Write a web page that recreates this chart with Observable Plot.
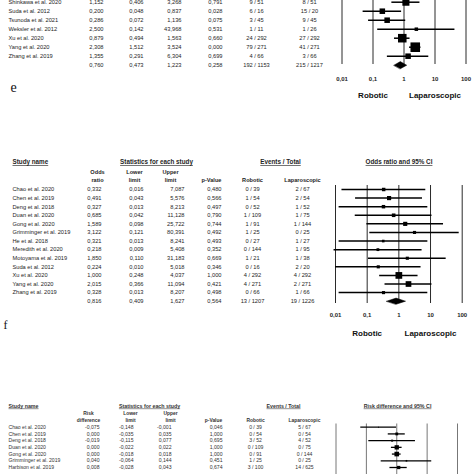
<!DOCTYPE html>
<html><head><meta charset="utf-8">
<script src="https://cdn.jsdelivr.net/npm/d3@7"></script>
<script src="https://cdn.jsdelivr.net/npm/@observablehq/plot@0.6"></script>
<style>
html,body{margin:0;padding:0;background:#fff;}
#fig{position:relative;width:474px;height:474px;overflow:hidden;background:#fff;}
#fig svg{position:absolute;left:0;top:0;}
</style></head><body><div id="fig"></div>
<script>
// ---------- Panel d (upper, partly cut off) : odds ratio ----------
const dNames = ["Shinkawa et al. 2020","Suda et al. 2012","Tsunoda et al. 2021","Weksler et al. 2012","Xu et al. 2020","Yang et al. 2020","Zhang et al. 2019"];
const dOR    = [1.152, 0.200, 0.286, 2.500, 0.879, 2.308, 1.355];
const dLower = [0.406, 0.048, 0.072, 0.142, 0.494, 1.512, 0.291];
const dUpper = [3.268, 0.837, 1.136, 43.968, 1.563, 3.524, 6.304];
const dP     = [0.791, 0.028, 0.075, 0.531, 0.660, 0.000, 0.699];
const dRobEv = [9, 6, 3, 1, 24, 79, 4];
const dRobN  = [51, 16, 45, 11, 292, 271, 66];
const dLapEv = [8, 15, 9, 1, 27, 41, 3];
const dLapN  = [51, 20, 45, 26, 292, 271, 66];
const dWeight = [8.2, 5.0, 5.0, 2.0, 12.0, 15.0, 5.0];
const dPooled = {est: 0.760, lo: 0.473, hi: 1.223, p: 0.258, rob: "192 / 1153", lap: "215 / 1217"};

// ---------- Panel e : odds ratio ----------
const eNames = ["Chao et al. 2020","Chen et al. 2019","Deng et al. 2018","Duan et al. 2020","Gong et al. 2020","Grimminger et al. 2019","He et al. 2018","Meredith et al. 2020","Motoyama et al. 2019","Suda et al. 2012","Xu et al. 2020","Yang et al. 2020","Zhang et al. 2019"];
const eOR    = [0.332, 0.491, 0.327, 0.685, 1.589, 3.122, 0.321, 0.218, 1.850, 0.224, 1.000, 2.015, 0.328];
const eLower = [0.016, 0.043, 0.013, 0.042, 0.098, 0.121, 0.013, 0.009, 0.110, 0.010, 0.248, 0.366, 0.013];
const eUpper = [7.087, 5.576, 8.213, 11.128, 25.722, 80.391, 8.241, 5.408, 31.183, 5.018, 4.037, 11.094, 8.207];
const eP     = [0.480, 0.566, 0.497, 0.790, 0.744, 0.492, 0.493, 0.352, 0.669, 0.346, 1.000, 0.421, 0.498];
const eRobEv = [0, 1, 0, 1, 1, 1, 0, 0, 1, 0, 4, 4, 0];
const eRobN  = [39, 54, 52, 109, 91, 25, 27, 144, 21, 16, 292, 271, 66];
const eLapEv = [2, 2, 1, 1, 1, 0, 1, 1, 1, 2, 4, 2, 1];
const eLapN  = [67, 54, 52, 75, 144, 25, 27, 95, 38, 20, 292, 271, 66];
const eWeight = [5.9, 8.5, 5.9, 6.4, 8.5, 4.8, 3.4, 3.9, 4.8, 4.8, 22.4, 16.0, 4.8];
const ePooled = {est: 0.816, lo: 0.409, hi: 1.627, p: 0.564, rob: "13 / 1207", lap: "19 / 1226"};

// ---------- Panel f : risk difference (lower part cut off) ----------
const fNames = ["Chao et al. 2020","Chen et al. 2019","Deng et al. 2018","Duan et al. 2020","Gong et al. 2020","Grimminger et al. 2019","Harbison et al. 2019"];
const fRD    = [-0.075, 0.000, -0.019, 0.000, 0.000, 0.040, 0.008];
const fLower = [-0.148, -0.035, -0.115, -0.022, -0.018, -0.064, -0.028];
const fUpper = [-0.001, 0.035, 0.077, 0.022, 0.018, 0.144, 0.043];
const fP     = [0.046, 1.000, 0.695, 1.000, 1.000, 0.451, 0.674];
const fRobEv = [0, 0, 3, 0, 0, 1, 3];
const fRobN  = [39, 54, 52, 109, 91, 25, 100];
const fLapEv = [5, 0, 4, 0, 0, 0, 14];
const fLapN  = [67, 54, 52, 75, 144, 25, 625];
const fWeight = [0.6, 6, 3, 14, 16, 2, 8];

const orTicks = [0.01, 0.1, 1, 10, 100];
const rdTicks = [-0.25, -0.125, 0, 0.125, 0.25];
const favours = ["Robotic", "Laparoscopic"];

// ---------- helpers ----------
const FONT = "Liberation Sans, Arial, Helvetica, sans-serif";
const f3 = v => v.toFixed(3).replace(".", ",");
const commaNum = v => String(v).replace(".", ",");
const fig = document.getElementById("fig");
const underlineSet = new Set();

function rowsOf(names, est, lo, hi, p, re, rn, le, ln, w) {
  return names.map((name, i) => ({i, name, est: est[i], lo: lo[i], hi: hi[i], p: p[i],
    rob: `${re[i]} / ${rn[i]}`, lap: `${le[i]} / ${ln[i]}`, w: w[i]}));
}

function drawPanel(rows, pooled, L) {
  const all = pooled ? rows.concat([{...pooled, i: rows.length, name: ""}]) : rows;
  const nIdx = all.length - 1;
  const yScale = {domain: [0, nIdx], range: [L.y0, L.y1], axis: null};
  const toIdx = py => (py - L.y0) / (L.y1 - L.y0) * nIdx;
  const txt = {fontSize: L.fs, fill: L.color, fontFamily: FONT};

  // table
  const tm = [
    Plot.text(rows, {x: L.cols.name, y: "i", text: "name", textAnchor: "start", ...txt}),
    Plot.text(all, {x: L.cols.est, y: "i", text: d => f3(d.est), textAnchor: "end", ...txt}),
    Plot.text(all, {x: L.cols.lo, y: "i", text: d => f3(d.lo), textAnchor: "end", ...txt}),
    Plot.text(all, {x: L.cols.hi, y: "i", text: d => f3(d.hi), textAnchor: "end", ...txt}),
    Plot.text(all, {x: L.cols.p, y: "i", text: d => f3(d.p), textAnchor: "end", ...txt}),
    Plot.text(all, {x: L.cols.rob, y: "i", text: "rob", textAnchor: "middle", ...txt}),
    Plot.text(all, {x: L.cols.lap, y: "i", text: "lap", textAnchor: "middle", ...txt})
  ];
  for (const line of (L.headers || [])) {
    for (const it of line.items) {
      if (line.underline) underlineSet.add(it.t);
      tm.push(Plot.text([it.t], {x: it.x, text: d => d, frameAnchor: "top", dy: line.y,
        textAnchor: it.a || "middle", fontSize: line.fs, fontWeight: "bold", fill: L.color, fontFamily: FONT}));
    }
  }
  for (const lab of (L.labels || [])) {
    tm.push(Plot.text([lab.t], {x: lab.x, text: d => d, frameAnchor: "top", dy: lab.y, textAnchor: "start",
      lineAnchor: "bottom", fontSize: lab.fs, fill: "#111", fontFamily: "Liberation Serif, Times New Roman, serif"}));
  }
  const table = Plot.plot({width: 474, height: 474, margin: 0,
    x: {type: "identity", axis: null}, y: yScale,
    style: {background: "transparent", overflow: "visible"}, marks: tm});

  // forest
  const fm = [
    Plot.ruleX(L.ticks, {x: d => d, y1: toIdx(L.gridTop), y2: toIdx(L.gridBottom), stroke: L.gridColor, strokeWidth: 1}),
    Plot.ruleY(rows, {y: "i", x1: "lo", x2: "hi", stroke: "#000", strokeWidth: L.ciW}),
    Plot.dot(rows, {x: "est", y: "i", r: "w", symbol: "square", fill: "#000", stroke: "none"})
  ];
  if (pooled) {
    const s = rows.length, h = L.diamondH;
    const dia = [{x: pooled.lo, y: s}, {x: pooled.est, y: s - h}, {x: pooled.hi, y: s}, {x: pooled.est, y: s + h}];
    fm.push(Plot.line(dia, {x: "x", y: "y", curve: "linear-closed", fill: "#000", stroke: "#000", strokeWidth: 0.5}));
  }
  if (L.tickY != null) {
    fm.push(Plot.text(L.ticks, {x: d => d, text: d => commaNum(d), frameAnchor: "top", dy: L.tickY,
      fontSize: L.tickFs, fontWeight: "bold", fill: L.color, fontFamily: FONT}));
  }
  if (L.favY != null) {
    fm.push(Plot.text(favours, {x: (d, i) => L.favAt[i], text: d => d, frameAnchor: "top", dy: L.favY,
      fontSize: L.favFs, fontWeight: "bold", fill: "#111", fontFamily: FONT}));
  }
  const forest = Plot.plot({width: 474, height: 474, margin: 0,
    x: {type: L.xType, domain: L.xDomain, range: L.fx, axis: null}, y: yScale,
    r: {type: "sqrt", domain: [0, L.wMax], range: [0, L.rMax]},
    style: {background: "transparent", overflow: "visible"}, marks: fm});
  fig.appendChild(table);
  fig.appendChild(forest);
}

// ---------- panel d ----------
drawPanel(
  rowsOf(dNames, dOR, dLower, dUpper, dP, dRobEv, dRobN, dLapEv, dLapN, dWeight), dPooled,
  {fs: 5.7, color: "#1e1e1e", y0: 1.7, y1: 64.7,
   cols: {name: 8, est: 103, lo: 143, hi: 181, p: 222, rob: 256, lap: 309},
   xType: "log", xDomain: [0.01, 100], fx: [341.5, 465.5], ticks: orTicks,
   gridTop: -10, gridBottom: 64, gridColor: "#2a2a2a", ciW: 1.5, diamondH: 0.4,
   wMax: 15, rMax: 5.4, tickY: 76, tickFs: 6, favY: 92, favFs: 8, favAt: [0.1, 10],
   labels: [{t: "e", x: 10, y: 91, fs: 14}]}
);

// ---------- panel e ----------
drawPanel(
  rowsOf(eNames, eOR, eLower, eUpper, eP, eRobEv, eRobN, eLapEv, eLapN, eWeight), ePooled,
  {fs: 5.7, color: "#1e1e1e", y0: 189, y1: 300.7,
   cols: {name: 12, est: 101, lo: 143, hi: 184, p: 221, rob: 252, lap: 302},
   xType: "log", xDomain: [0.01, 100], fx: [335, 461.7], ticks: orTicks,
   gridTop: 185, gridBottom: 303, gridColor: "#2a2a2a", ciW: 1.5, diamondH: 0.36,
   wMax: 22.4, rMax: 3.8, tickY: 312, tickFs: 6, favY: 330, favFs: 8, favAt: [0.1, 10],
   headers: [
     {y: 159, fs: 6.3, underline: true, items: [
       {t: "Study name", x: 12, a: "start"}, {t: "Statistics for each study", x: 156},
       {t: "Events / Total", x: 280}, {t: "Odds ratio and 95% CI", x: 398.5}]},
     {y: 170, fs: 5.6, items: [{t: "Odds", x: 97}, {t: "Lower", x: 134}, {t: "Upper", x: 170}]},
     {y: 177.5, fs: 5.6, items: [{t: "ratio", x: 97}, {t: "limit", x: 134}, {t: "limit", x: 170},
       {t: "p-Value", x: 211}, {t: "Robotic", x: 252}, {t: "Laparoscopic", x: 302}]}
   ],
   labels: [{t: "f", x: 3, y: 328, fs: 12}]}
);

// ---------- panel f ----------
drawPanel(
  rowsOf(fNames, fRD, fLower, fUpper, fP, fRobEv, fRobN, fLapEv, fLapN, fWeight), null,
  {fs: 5.1, color: "#333", y0: 426.7, y1: 467,
   cols: {name: 8, est: 99, lo: 133, hi: 171, p: 222, rob: 255, lap: 304},
   xType: "linear", xDomain: [-0.25, 0.25], fx: [335.5, 457], ticks: rdTicks,
   gridTop: 423.5, gridBottom: 490, gridColor: "#777", ciW: 1.3, diamondH: 0.33,
   wMax: 16, rMax: 2.6, tickY: null, favY: null,
   headers: [
     {y: 403.3, fs: 5.3, underline: true, items: [
       {t: "Study name", x: 8, a: "start"}, {t: "Statistics for each study", x: 149},
       {t: "Events / Total", x: 283}, {t: "Risk difference and 95% CI", x: 397}]},
     {y: 411.5, fs: 4.9, items: [{t: "Risk", x: 88}, {t: "Lower", x: 130}, {t: "Upper", x: 170}]},
     {y: 418, fs: 4.9, items: [{t: "difference", x: 88}, {t: "limit", x: 130}, {t: "limit", x: 170},
       {t: "p-Value", x: 213}, {t: "Robotic", x: 255}, {t: "Laparoscopic", x: 304}]}
   ]}
);

// underline the section headers
fig.querySelectorAll("text").forEach(t => {
  if (underlineSet.has(t.textContent)) t.style.textDecoration = "underline";
});
</script></body></html>
